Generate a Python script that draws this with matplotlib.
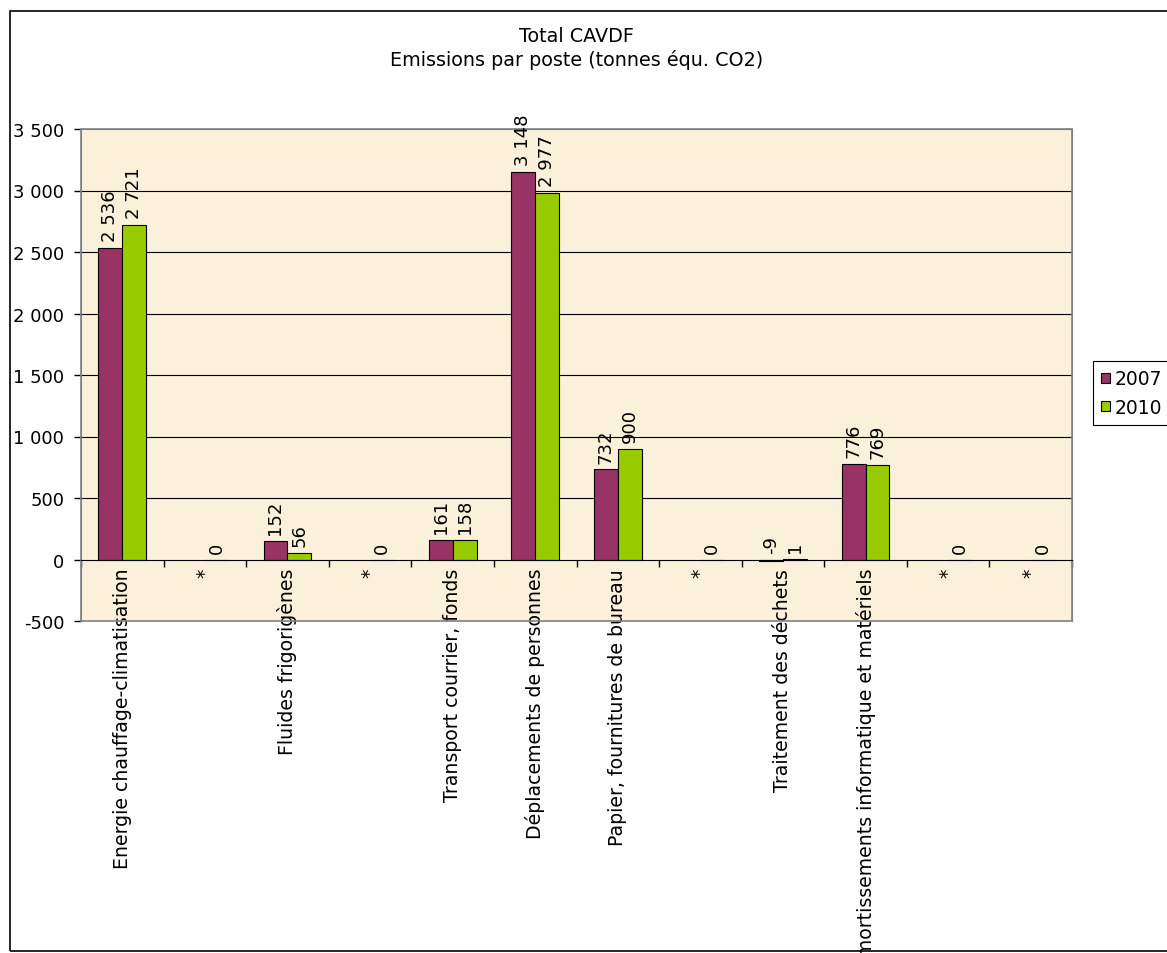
import numpy as np
import matplotlib
matplotlib.use("Agg")
import matplotlib.pyplot as plt
from matplotlib.patches import Rectangle
from matplotlib.ticker import FuncFormatter

# data
categories = ["Energie chauffage-climatisation", "*", "Fluides frigorigènes", "*",
              "Transport courrier, fonds", "Déplacements de personnes",
              "Papier, fournitures de bureau", "*", "Traitement des déchets",
              "Amortissements informatique et matériels", "*", "*"]
values_2007 = [2536, np.nan, 152, np.nan, 161, 3148, 732, np.nan, -9, 776, np.nan, np.nan]
values_2010 = [2721, 0, 56, 0, 158, 2977, 900, 0, 1, 769, 0, 0]
series_names = ["2007", "2010"]
series_colors = ["#993366", "#99CC00"]


def fmt_fr(v):
    return f"{int(round(v)):,}".replace(",", " ")


plt.rcParams['font.family'] = ['DejaVu Sans']
fig = plt.figure(figsize=(11.67, 9.54), dpi=100)
W, H = 1167, 954

# outer chart border
fig.patches.append(Rectangle((10 / W, 1 - 952 / H), 1.2, 940 / H, transform=fig.transFigure,
                             fill=False, edgecolor='black', linewidth=1.2, zorder=0))

ax = fig.add_axes([81 / W, 1 - 622 / H, 991 / W, 492 / H])
ax.set_facecolor("#FBF0DA")

x = np.arange(len(categories))
width = 0.29
for i, (vals, name, col) in enumerate(zip([values_2007, values_2010], series_names, series_colors)):
    pos = x + (i - 0.5) * width
    ax.bar(pos, vals, width, color=col, edgecolor='black', linewidth=0.8, label=name, zorder=3)
    for p, v in zip(pos, vals):
        if np.isnan(v):
            continue
        ax.annotate(fmt_fr(v), (p, max(v, 0)), xytext=(0, 5), textcoords='offset points',
                    rotation=90, ha='center', va='bottom', fontsize=13, zorder=4)

ax.set_xlim(-0.5, len(categories) - 0.5)
ax.set_ylim(-500, 3500)
yt = np.arange(-500, 3501, 500)
ax.set_yticks(yt)
ax.yaxis.set_major_formatter(FuncFormatter(lambda v, _: fmt_fr(v)))
for v in yt:
    if v not in (0, -500, 3500):
        ax.axhline(v, color='black', linewidth=0.8, zorder=1)

# x axis crosses at zero
ax.spines['bottom'].set_position(('data', 0))
ax.spines['bottom'].set_color('black')
ax.spines['bottom'].set_zorder(5)
for s in ['left', 'top', 'right']:
    ax.spines[s].set_color('#808080')
ax.add_patch(Rectangle((0, 0), 1, 1, transform=ax.transAxes, fill=False,
                       edgecolor='#808080', linewidth=1.2, zorder=2, clip_on=False))

ax.set_xticks(np.arange(-0.5, len(categories), 1.0))
ax.set_xticklabels([])
ax.set_xticks(x, minor=True)
ax.set_xticklabels(categories, minor=True, rotation=90, fontsize=13.6)
ax.tick_params(axis='x', which='major', direction='out', length=5, width=1, color='black')
ax.tick_params(axis='x', which='minor', length=0, pad=6)
ax.tick_params(axis='y', direction='out', length=5, width=1, color='black', labelsize=13, pad=7)

fig.text(0.5 * (81 + 1072) / W, 1 - 37 / H, "Total CAVDF", ha='center', va='center', fontsize=13.8)
fig.text(0.5 * (81 + 1072) / W, 1 - 60 / H, "Emissions par poste (tonnes équ. CO2)",
         ha='center', va='center', fontsize=13.8)

leg = fig.legend(loc='upper left', bbox_to_anchor=(1093 / W, 1 - 362 / H), fontsize=13.5,
                 fancybox=False, edgecolor='black', framealpha=1, handlelength=0.45,
                 handleheight=0.45, handletextpad=0.25, borderpad=0.45, labelspacing=0.5,
                 borderaxespad=0)
leg.get_frame().set_linewidth(0.8)

fig.savefig("out.png", dpi=100)
